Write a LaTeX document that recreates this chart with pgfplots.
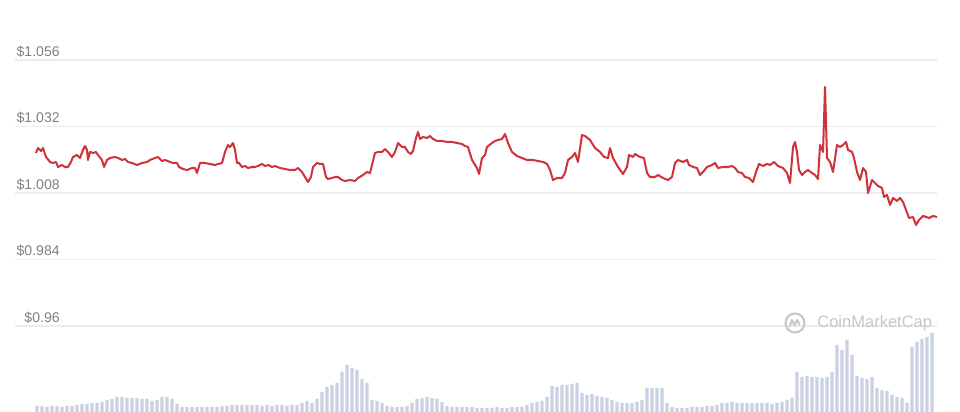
\documentclass[border=0pt]{standalone}
\usepackage{fontspec}
\setmainfont{Liberation Sans}
\usepackage{pgfplots}
\usepackage{pgfplotstable}
\pgfplotsset{compat=1.18}
\definecolor{cmcred}{RGB}{208,50,60}
\definecolor{volcol}{RGB}{202,209,227}
\definecolor{gridcol}{RGB}{236,236,236}
\definecolor{labcol}{RGB}{128,128,128}
\definecolor{wmcol}{RGB}{198,198,198}

\pgfplotstableread{
x price
36 1.02244
38 1.02424
41 1.02316
43 1.02424
46 1.02099
50 1.01919
53 1.01883
56 1.01919
58 1.01738
62 1.01811
65 1.01738
68 1.01738
71 1.01919
73 1.02099
77 1.02171
80 1.02063
83 1.02352
85 1.02496
87 1.02352
88 1.01991
90 1.02280
93 1.02244
96 1.02280
98 1.02171
102 1.01991
104 1.01738
107 1.01991
110 1.02063
115 1.02099
118 1.02063
122 1.01991
125 1.02027
128 1.01919
132 1.01883
137 1.01811
142 1.01883
147 1.01919
150 1.01991
155 1.02063
158 1.02099
162 1.01955
165 1.01991
170 1.01919
173 1.01883
177 1.01883
179 1.01738
183 1.01666
187 1.01630
192 1.01702
195 1.01702
197 1.01522
200 1.01883
205 1.01883
210 1.01847
215 1.01811
218 1.01847
222 1.01883
225 1.02280
228 1.02532
230 1.02460
233 1.02604
235 1.02352
237 1.01883
239 1.01883
242 1.01738
245 1.01774
248 1.01702
252 1.01738
255 1.01738
258 1.01774
262 1.01847
265 1.01774
268 1.01811
272 1.01738
275 1.01774
280 1.01702
285 1.01666
290 1.01630
295 1.01630
298 1.01702
302 1.01558
305 1.01377
308 1.01197
311 1.01377
313 1.01738
317 1.01883
320 1.01847
323 1.01847
326 1.01377
328 1.01305
332 1.01341
335 1.01377
338 1.01377
342 1.01269
345 1.01233
350 1.01269
355 1.01233
358 1.01341
363 1.01450
367 1.01558
370 1.01522
375 1.02244
378 1.02280
382 1.02280
385 1.02388
388 1.02280
392 1.02099
395 1.02280
398 1.02604
402 1.02460
405 1.02460
408 1.02280
411 1.02208
413 1.02316
416 1.02785
418 1.03002
420 1.02749
423 1.02821
427 1.02785
430 1.02857
433 1.02749
437 1.02677
442 1.02677
447 1.02641
452 1.02641
457 1.02604
462 1.02568
465 1.02496
468 1.02460
472 1.01991
477 1.01702
479 1.01486
482 1.02063
485 1.02171
487 1.02460
492 1.02604
495 1.02677
498 1.02713
502 1.02749
505 1.02929
508 1.02604
512 1.02280
517 1.02135
522 1.02063
527 1.01991
533 1.01991
538 1.01955
543 1.01919
547 1.01847
550 1.01630
553 1.01269
557 1.01341
562 1.01341
565 1.01522
568 1.01991
572 1.02099
575 1.02244
578 1.01919
582 1.02893
585 1.02857
590 1.02713
595 1.02424
600 1.02280
604 1.02099
608 1.02063
610 1.02424
613 1.02063
618 1.01738
623 1.01486
627 1.01738
629 1.02171
633 1.02099
635 1.02208
640 1.02099
644 1.02063
647 1.01522
650 1.01377
655 1.01377
658 1.01450
663 1.01341
668 1.01269
672 1.01377
675 1.01883
678 1.01991
683 1.01919
687 1.01991
689 1.01811
693 1.01738
697 1.01702
700 1.01450
703 1.01558
707 1.01738
712 1.01811
715 1.01883
718 1.01702
723 1.01738
728 1.01738
732 1.01774
735 1.01702
738 1.01558
742 1.01522
745 1.01377
749 1.01341
753 1.01197
756 1.01558
759 1.01847
763 1.01774
767 1.01847
770 1.01811
774 1.01919
778 1.01774
783 1.01702
787 1.01522
790 1.01161
793 1.02460
795 1.02641
797 1.02280
799 1.01630
802 1.01450
805 1.01558
808 1.01630
812 1.01522
815 1.01450
818 1.01305
820 1.02532
823 1.02280
825 1.04626
827 1.02063
830 1.01919
833 1.01558
837 1.02532
840 1.02460
843 1.02532
846 1.02641
848 1.02352
852 1.02280
854 1.02063
857 1.01558
860 1.01269
863 1.01702
866 1.01558
868 1.00800
872 1.01269
875 1.01161
878 1.01053
882 1.00980
884 1.00656
887 1.00728
890 1.00367
893 1.00620
897 1.00511
900 1.00620
903 1.00475
906 1.00186
909 0.99898
913 0.99934
916 0.99645
919 0.99826
923 0.99970
926 0.99934
929 0.99898
933 0.99970
937 0.99934
}\pricetable

\pgfplotstableread{
x vol
37 6
42 6
47 5
52 6
57 6
62 5
67 6
72 6
77 7
82 8
87 8
92 9
97 9
102 10
107 12
112 13
117 15
122 15
127 14
132 14
137 14
142 13
147 13
152 11
157 12
162 15
167 15
172 13
177 8
182 5
187 5
192 5
197 5
202 5
207 5
212 5
217 5
222 6
227 6
232 7
237 7
242 7
247 7
252 7
257 7
262 6
267 7
272 6
277 7
282 7
287 6
292 7
297 7
302 9
307 11
312 9
317 13
322 20
327 25
332 27
337 29
342 40
347 47
352 44
357 42
362 33
367 29
372 12
377 11
382 9
387 6
392 5
397 5
402 5
407 6
412 9
417 13
422 14
427 15
432 14
437 13
442 10
447 6
452 5
457 5
462 5
467 5
472 5
477 4
482 4
487 4
492 4
497 5
502 4
507 4
512 5
517 5
522 5
527 7
532 9
537 10
542 11
547 15
552 26
557 25
562 27
567 27
572 28
577 29
582 19
587 17
592 18
597 16
602 15
607 14
612 12
617 10
622 9
627 9
632 9
637 10
642 12
647 24
652 24
657 24
662 24
667 9
672 5
677 4
682 4
687 4
692 5
697 5
702 5
707 6
712 6
717 7
722 9
727 9
732 10
737 9
742 9
747 9
752 9
757 9
762 9
767 9
772 8
777 9
782 10
787 12
792 14
797 40
802 35
807 36
812 35
817 35
822 34
827 35
832 40
837 67
842 62
847 72
852 57
857 36
862 34
867 33
872 35
877 24
882 22
887 21
892 17
897 15
902 14
907 9
912 65
917 70
922 73
927 75
932 79
}\voltable

\begin{document}
\begin{tikzpicture}
% volume axis
\begin{axis}[
  at={(0.3cm,0cm)}, anchor=south west,
  scale only axis, width=18.44cm, height=8.24cm,
  xmin=15, xmax=937, ymin=0, ymax=412,
  axis line style={draw=none}, tick style={draw=none},
  xtick=\empty, ytick=\empty,
  clip=false,
]
\addplot[ybar, bar width=0.062cm, fill=volcol, draw=none] table[x=x, y=vol] {\voltable};
\end{axis}
% price axis
\begin{axis}[
  at={(0.3cm,0cm)}, anchor=south west,
  scale only axis, width=18.44cm, height=8.24cm,
  xmin=15, xmax=937, ymin=0.928963, ymax=1.077654,
  axis line style={draw=none}, tick style={draw=none},
  xtick=\empty,
  ytick={0.96,0.984,1.008,1.032,1.056},
  yticklabels={\$0.96,\$0.984,\$1.008,\$1.032,\$1.056},
  yticklabel style={anchor=base east, xshift=0.9cm, yshift=0.07cm, inner sep=0pt,
    font=\fontsize{8}{9}\selectfont, text=labcol},
  ymajorgrids, grid style={draw=gridcol, line width=0.6pt},
  clip=false,
]
\addplot[cmcred, line width=1.15pt, line join=round] table[x=x, y=price] {\pricetable};
\node[anchor=west, text=wmcol, font=\fontsize{9.4}{11}\selectfont, inner sep=0pt] at (axis cs:817,0.96108) {CoinMarketCap};
\draw[wmcol, line width=1.2pt] (axis cs:795,0.96108) circle (0.19cm);
\draw[wmcol, line width=1.1pt, line join=round, line cap=round]
  ([xshift=-0.11cm,yshift=-0.07cm]axis cs:795,0.96108) -- ++(0.05cm,0.13cm) -- ++(0.05cm,-0.11cm) -- ++(0.05cm,0.11cm) -- ++(0.05cm,-0.09cm);
\end{axis}
\pgfresetboundingbox
\path[use as bounding box] (0,0) rectangle (19.2cm,8.24cm);
\end{tikzpicture}
\end{document}
